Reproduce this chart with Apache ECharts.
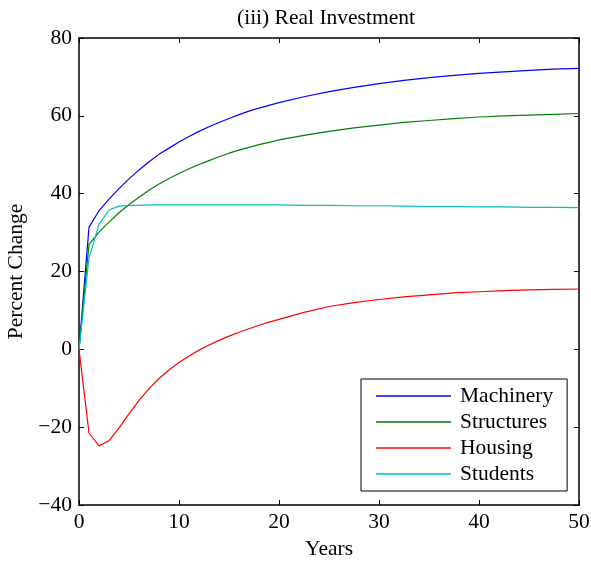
<!DOCTYPE html>
<html>
<head>
<meta charset="utf-8">
<script src="https://cdn.jsdelivr.net/npm/echarts@6/dist/echarts.min.js"></script>
<style>
  html, body { margin: 0; padding: 0; background: #fff; }
  #chart { width: 591px; height: 564px; }
</style>
</head>
<body>
<div id="chart"></div>
<script>
// Years after the shock
const years = [0, 1, 2, 3, 4, 5, 6, 7, 8, 9, 10, 11, 12, 13, 14, 15, 16, 17, 18, 19, 20,
  22.5, 25, 27.5, 30, 32.5, 35, 37.5, 40, 42.5, 45, 47.5, 50];

// Percent change in real investment by capital type
const machinery = [0, 31.4, 35.6, 38.6, 41.3, 43.8, 46.1, 48.2, 50.1, 51.7, 53.3, 54.7, 56.0, 57.2, 58.3, 59.3, 60.3, 61.2, 62.0, 62.7, 63.4,
  64.9, 66.2, 67.3, 68.3, 69.1, 69.8, 70.4, 70.9, 71.3, 71.7, 72.0, 72.2];
const structures = [0, 27.0, 30.1, 32.7, 35.1, 37.2, 39.1, 40.9, 42.5, 43.9, 45.2, 46.4, 47.5, 48.5, 49.5, 50.4, 51.2, 51.9, 52.6, 53.2, 53.8,
  55.0, 56.0, 56.9, 57.6, 58.3, 58.8, 59.3, 59.7, 60.0, 60.2, 60.4, 60.6];
const housing = [0, -21.5, -24.8, -23.5, -20.2, -16.6, -13.1, -10.1, -7.5, -5.3, -3.4, -1.7, -0.2, 1.1, 2.3, 3.4, 4.4, 5.3, 6.2, 7.0, 7.7,
  9.5, 11.0, 12.0, 12.8, 13.5, 14.0, 14.5, 14.8, 15.1, 15.3, 15.4, 15.5];
const students = [0, 23.5, 32.1, 35.8, 36.8, 37.0, 37.0, 37.1, 37.1, 37.1, 37.1, 37.1, 37.1, 37.1, 37.1, 37.1, 37.1, 37.1, 37.1, 37.1, 37.1,
  37.0, 37.0, 36.9, 36.9, 36.8, 36.7, 36.7, 36.6, 36.6, 36.5, 36.5, 36.4];

const seriesNames = ['Machinery', 'Structures', 'Housing', 'Students'];
const seriesColors = ['#0000ff', '#008000', '#ff0000', '#00bfbf'];
const seriesValues = [machinery, structures, housing, students];

const FONT = '"Liberation Serif", "DejaVu Serif", serif';
const FS = 21.5;

const chart = echarts.init(document.getElementById('chart'), null, { renderer: 'canvas' });

const axisLine = { show: true, onZero: false, lineStyle: { color: '#000', width: 1.5 } };
const tick = { show: true, inside: true, length: 5, lineStyle: { color: '#000', width: 1 } };

chart.setOption({
  animation: false,
  backgroundColor: '#fff',
  title: {
    text: '(iii) Real Investment',
    left: 232,
    top: 2,
    textStyle: { fontFamily: FONT, fontSize: FS, fontWeight: 'normal', color: '#000' }
  },
  grid: { left: 79, right: 12, top: 38, bottom: 59, containLabel: false, outerBoundsMode: 'none' },
  legend: {
    data: seriesNames,
    orient: 'vertical',
    left: 361,
    top: 379,
    padding: [6, 14, 6, 15],
    icon: 'rect',
    itemWidth: 75,
    itemHeight: 1.5,
    itemGap: 4,
    borderColor: '#000',
    borderWidth: 1,
    backgroundColor: '#fff',
    textStyle: { fontFamily: FONT, fontSize: FS, color: '#000', padding: [0, 0, 0, 4] }
  },
  xAxis: [
    {
      type: 'value', min: 0, max: 50, interval: 10,
      name: 'Years', nameLocation: 'middle', nameGap: 32,
      nameTextStyle: { fontFamily: FONT, fontSize: FS, color: '#000' },
      axisLine: axisLine, axisTick: tick, splitLine: { show: false },
      axisLabel: { fontFamily: FONT, fontSize: FS, color: '#000', margin: 6 }
    },
    {
      type: 'value', min: 0, max: 50, interval: 10, position: 'top',
      axisLine: axisLine, axisTick: tick, splitLine: { show: false },
      axisLabel: { show: false }
    }
  ],
  yAxis: [
    {
      type: 'value', min: -40, max: 80, interval: 20,
      name: 'Percent Change', nameLocation: 'middle', nameGap: 51, nameRotate: 90,
      nameTextStyle: { fontFamily: FONT, fontSize: FS, color: '#000' },
      axisLine: axisLine, axisTick: tick, splitLine: { show: false },
      axisLabel: {
        fontFamily: FONT, fontSize: FS, color: '#000', margin: 7,
        formatter: v => String(v).replace('-', '\u2212')
      }
    },
    {
      type: 'value', min: -40, max: 80, interval: 20, position: 'right',
      axisLine: axisLine, axisTick: tick, splitLine: { show: false },
      axisLabel: { show: false }
    }
  ],
  series: seriesNames.map((name, i) => ({
    name: name,
    type: 'line',
    symbol: 'none',
    smooth: false,
    color: seriesColors[i],
    lineStyle: { color: seriesColors[i], width: 1.2 },
    data: years.map((y, k) => [y, seriesValues[i][k]])
  }))
});
</script>
</body>
</html>
